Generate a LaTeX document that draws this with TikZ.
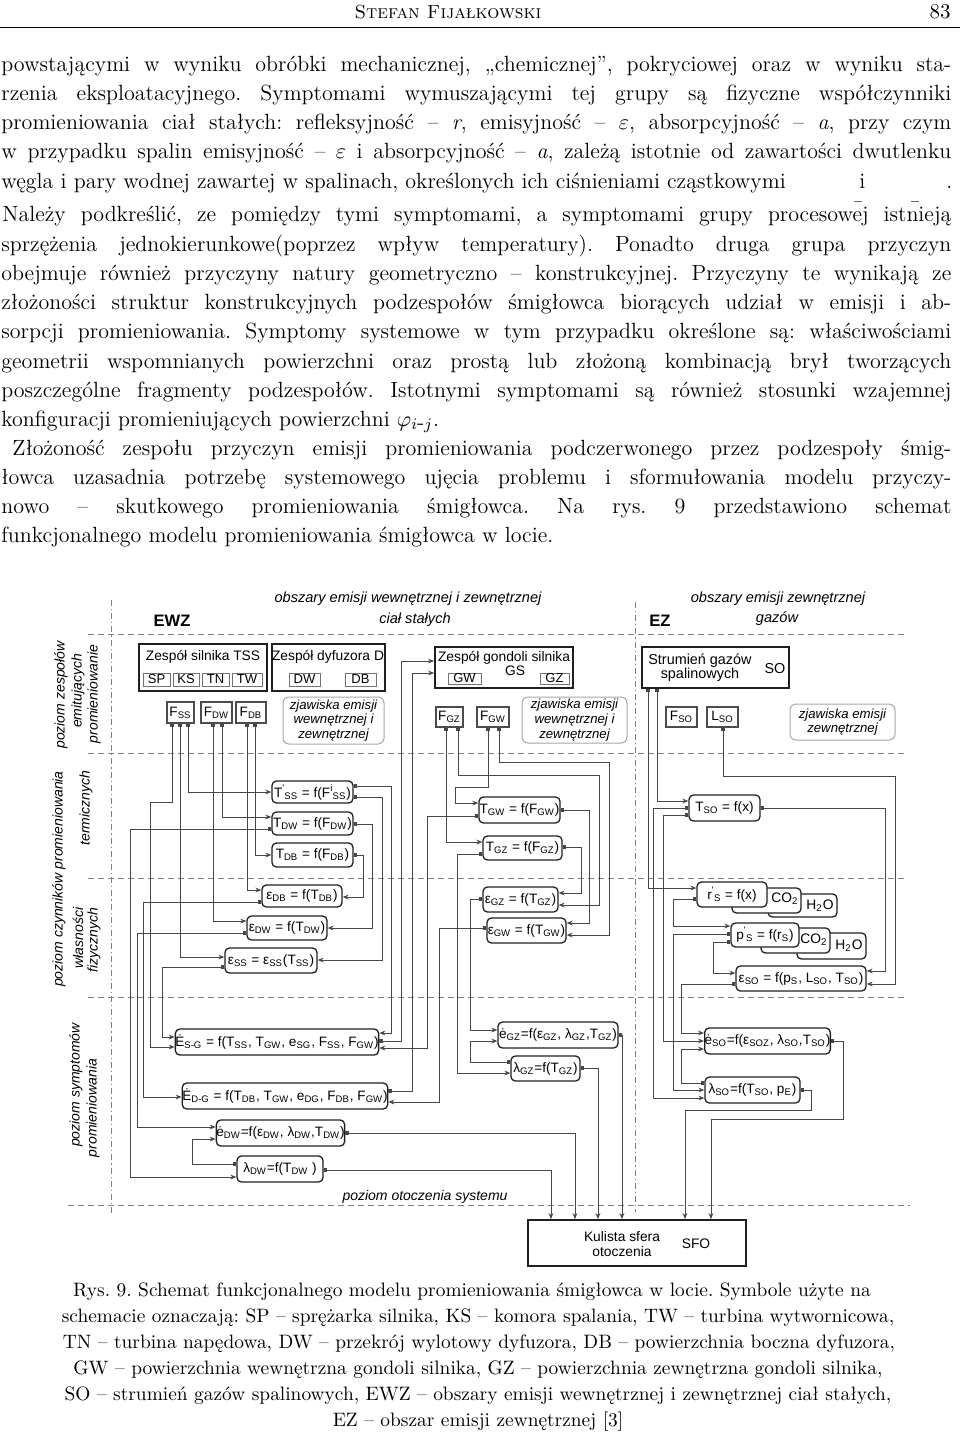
\documentclass[tikz,border=0pt]{standalone}
\usepackage{fontspec}
\newfontfamily\dfont{Liberation Sans}
\usetikzlibrary{arrows.meta}
\definecolor{boxc}{gray}{0.12}
\definecolor{linec}{gray}{0.28}
\definecolor{dashc}{gray}{0.5}
\newcommand\sbs[1]{\textsubscript{#1}}
\newcommand\bx[7]{\node[#1,minimum width={(#5-#3)*0.5pt},minimum height={(#6-#4)*0.5pt}] (#2) at ({(#3+#5)/2},{(#4+#6)/2}) {#7};}
\tikzset{
  body/.style={anchor=base west,inner sep=0pt,font=\fontsize{11}{13}\selectfont},
  capt/.style={anchor=base,inner sep=0pt,font=\fontsize{9.7}{12}\selectfont},
  dtext/.style={inner sep=0pt,font=\dfont\fontsize{6.9}{8}\selectfont},
  itext/.style={inner sep=0pt,align=center,font=\dfont\itshape\fontsize{6.8}{7.4}\selectfont},
  lvl/.style={inner sep=0pt,rotate=90,font=\dfont\itshape\fontsize{7}{8}\selectfont},
  mainbox/.style={draw=boxc,line width=0.9pt,inner sep=0pt},
  subbox/.style={draw=black!55,line width=0.5pt,inner sep=0pt,font=\dfont\fontsize{6.5}{8}\selectfont},
  fbx/.style={draw=black!70,line width=0.55pt,inner sep=0pt,font=\dfont\fontsize{6.8}{8}\selectfont},
  rbox/.style={draw=boxc,line width=0.65pt,rounded corners=2.2pt,inner sep=0pt,fill=white,font=\dfont\fontsize{6.8}{8}\selectfont},
  zbox/.style={draw=black!35,line width=0.5pt,rounded corners=3pt,inner sep=0pt,align=center,font=\dfont\itshape\fontsize{6.6}{7.3}\selectfont},
  hdash/.style={draw=dashc,line width=0.5pt,dash pattern=on 3pt off 2pt},
  vdash/.style={draw=dashc,line width=0.45pt,dash pattern=on 3pt off 1.5pt on 0.6pt off 1.5pt},
  conn/.style={draw=linec,line width=0.45pt,{Square[length=1.6pt,width=1.6pt]}-{Stealth[length=3pt,width=2.4pt]}},
}
\begin{document}
\frenchspacing
\begin{tikzpicture}[x=0.5pt,y=-0.5pt]
\useasboundingbox (0,0) rectangle (960,1435);
% ---------- header ----------
\node[anchor=base,inner sep=0pt,font=\fontsize{9.5}{11}\selectfont] (hd) at (448,18) {\textsc{Stefan Fijałkowski}};
\node[anchor=base east,inner sep=0pt,font=\fontsize{10.5}{12}\selectfont] (pg) at (951,18) {83};
\draw[line width=0.4pt] (0,27) -- (960,27);
% ---------- body text ----------
\node[body] (l1) at (1,71) {\makebox[475pt][s]{powstającymi w wyniku obróbki mechanicznej, „chemicznej”, pokryciowej oraz w wyniku sta-}};
\node[body] (l2) at (1,100) {\makebox[475pt][s]{rzenia eksploatacyjnego. Symptomami wymuszającymi tej grupy są fizyczne współczynniki}};
\node[body] (l3) at (1,129) {\makebox[475pt][s]{promieniowania ciał stałych: refleksyjność – \textit{r}, emisyjność – $\varepsilon$, absorpcyjność – \textit{a}, przy czym}};
\node[body] (l4) at (1,158) {\makebox[475pt][s]{w przypadku spalin emisyjność – $\varepsilon$ i absorpcyjność – \textit{a}, zależą istotnie od zawartości dwutlenku}};
\node[body] (l5) at (1,188) {węgla i pary wodnej zawartej w spalinach, określonych ich ciśnieniami cząstkowymi};
\node[body] (l5b) at (859,188) {i};
\node[body] (l5c) at (946,188) {.};
\draw[line width=0.4pt,black!60] (854,201) -- (862,201) (911,201) -- (919,201);
\node[body] (l6) at (2,221) {\makebox[474.5pt][s]{Należy podkreślić, ze pomiędzy tymi symptomami, a symptomami grupy procesowej istnieją}};
\node[body] (l7) at (1,251) {\makebox[475pt][s]{sprzężenia jednokierunkowe(poprzez wpływ temperatury). Ponadto druga grupa przyczyn}};
\node[body] (l8) at (1,280) {\makebox[475pt][s]{obejmuje również przyczyny natury geometryczno – konstrukcyjnej. Przyczyny te wynikają ze}};
\node[body] (l9) at (1,309) {\makebox[475pt][s]{złożoności struktur konstrukcyjnych podzespołów śmigłowca biorących udział w emisji i ab-}};
\node[body] (l10) at (1,338) {\makebox[475pt][s]{sorpcji promieniowania. Symptomy systemowe w tym przypadku określone są: właściwościami}};
\node[body] (l11) at (1,368) {\makebox[475pt][s]{geometrii wspomnianych powierzchni oraz prostą lub złożoną kombinacją brył tworzących}};
\node[body] (l12) at (1,397) {\makebox[475pt][s]{poszczególne fragmenty podzespołów. Istotnymi symptomami są również stosunki wzajemnej}};
\node[body] (l13) at (1,426) {konfiguracji promieniujących powierzchni $\varphi_{i\mbox{-}j}$.};
\node[body] (l14) at (12,455) {\makebox[469.5pt][s]{Złożoność zespołu przyczyn emisji promieniowania podczerwonego przez podzespoły śmig-}};
\node[body] (l15) at (1,484) {\makebox[475pt][s]{łowca uzasadnia potrzebę systemowego ujęcia problemu i sformułowania modelu przyczy-}};
\node[body] (l16) at (1,513) {\makebox[475pt][s]{nowo – skutkowego promieniowania śmigłowca. Na rys. 9 przedstawiono schemat}};
\node[body] (l17) at (1,542) {funkcjonalnego modelu promieniowania śmigłowca w locie.};
% ---------- diagram: frame lines ----------
\draw[vdash] (111,600) -- (111,1213);
\draw[vdash] (635,602) -- (635,1212);
\draw[hdash] (88,634) -- (907,634);
\draw[hdash] (88,753) -- (907,753);
\draw[hdash] (88,878) -- (907,878);
\draw[hdash] (88,997) -- (907,997);
\draw[hdash] (68,1205) -- (910,1205);
% top labels
\node[itext,font=\dfont\itshape\fontsize{7.3}{8}\selectfont] (t1) at (408,599) {obszary emisji wewnętrznej i zewnętrznej};
\node[itext,font=\dfont\itshape\fontsize{7.3}{8}\selectfont] (t2) at (415,620) {ciał stałych};
\node[itext,font=\dfont\itshape\fontsize{7.3}{8}\selectfont] (t3) at (778,599) {obszary emisji zewnętrznej};
\node[itext,font=\dfont\itshape\fontsize{7.3}{8}\selectfont] (t4) at (777,619) {gazów};
\node[inner sep=0pt,font=\dfont\bfseries\fontsize{8.3}{9}\selectfont] (ewz) at (172,621) {EWZ};
\node[inner sep=0pt,font=\dfont\bfseries\fontsize{8.3}{9}\selectfont] (ez) at (660,621) {EZ};
% level labels
\node[lvl] (v1) at (61,695) {poziom zespołów};
\node[lvl] (v2) at (78,691) {emitujących};
\node[lvl] (v3) at (94,694) {promieniowanie};
\node[lvl] (v4) at (59,879) {poziom czynników promieniowania};
\node[lvl] (v5) at (86,808) {termicznych};
\node[lvl] (v6) at (78,938) {własności};
\node[lvl] (v7) at (94,940) {fizycznych};
\node[lvl] (v8) at (76,1085) {poziom symptomów};
\node[lvl] (v9) at (93,1108) {promieniowania};
\node[itext,font=\dfont\itshape\fontsize{7}{8}\selectfont] (v10) at (425,1197) {poziom otoczenia systemu};
% ---------- level 1 boxes ----------
\bx{mainbox}{tss}{139}{644}{267}{691}{}
\node[dtext] (tsst) at (203,657) {Zespół silnika TSS};
\bx{subbox}{sp}{143}{673}{170}{686}{SP}
\bx{subbox}{ks}{173}{673}{199}{686}{KS}
\bx{subbox}{tn}{202}{673}{229}{686}{TN}
\bx{subbox}{tw}{232}{673}{262}{686}{TW}
\bx{mainbox}{dz}{272}{644}{385}{691}{}
\node[dtext] (dzt) at (328,657) {Zespół dyfuzora D};
\bx{subbox}{dw}{289}{673}{320}{686}{DW}
\bx{subbox}{db}{345}{673}{376}{686}{DB}
\bx{mainbox}{gs}{435}{647}{573}{688}{}
\node[dtext] (gst) at (504,658) {Zespół gondoli silnika};
\node[dtext] (gst2) at (515,671) {GS};
\bx{subbox}{gw}{448}{673}{481}{684}{GW}
\bx{subbox}{gz}{540}{673}{569}{684}{GZ}
\bx{mainbox}{so}{642}{647}{789}{688}{}
\node[dtext,font=\dfont\fontsize{7.2}{8}\selectfont] (sot1) at (700,661) {Strumień gazów};
\node[dtext,font=\dfont\fontsize{7.2}{8}\selectfont] (sot2) at (700,675) {spalinowych};
\node[dtext,font=\dfont\fontsize{7.2}{8}\selectfont] (sot3) at (775,669) {SO};
% F boxes
\bx{fbx}{fss}{167}{702}{194}{723}{F\sbs{SS}}
\bx{fbx}{fdw}{201}{702}{232}{723}{F\sbs{DW}}
\bx{fbx}{fdb}{236}{702}{266}{723}{F\sbs{DB}}
\bx{fbx}{fgz}{436}{707}{463}{727}{F\sbs{GZ}}
\bx{fbx}{fgw}{477}{707}{509}{727}{F\sbs{GW}}
\bx{fbx}{fso}{666}{707}{697}{727}{F\sbs{SO}}
\bx{fbx}{lso}{707}{707}{738}{727}{L\sbs{SO}}
\bx{zbox}{z1}{283}{697}{384}{744}{zjawiska emisji\\wewnętrznej i\\zewnętrznej}
\bx{zbox}{z2}{522}{697}{627}{743}{zjawiska emisji\\wewnętrznej i\\zewnętrznej}
\bx{zbox}{z3}{790}{704}{895}{740}{zjawiska emisji\\zewnętrznej}
% ---------- formula boxes ----------
\bx{rbox}{tss1}{272}{781}{353}{803}{T\textsuperscript{'}\kern-0.05em\sbs{SS} = f(F\textsuperscript{i}\kern-0.05em\sbs{SS})}
\bx{rbox}{tdw}{272}{812}{353}{835}{T\sbs{DW} = f(F\sbs{DW})}
\bx{rbox}{tdb}{272}{843}{353}{867}{T\sbs{DB} = f(F\sbs{DB})}
\bx{rbox}{edb}{262}{885}{342}{907}{ε\sbs{DB} = f(T\sbs{DB})}
\bx{rbox}{edw}{247}{916}{327}{940}{ε\sbs{DW} = f(T\sbs{DW})}
\bx{rbox}{ess}{225}{948}{317}{973}{ε\sbs{SS} = ε\sbs{SS}(T\sbs{SS})}
\bx{rbox}{tgw}{479}{797}{560}{823}{T\sbs{GW} = f(F\sbs{GW})}
\bx{rbox}{tgz}{483}{836}{562}{860}{T\sbs{GZ} = f(F\sbs{GZ})}
\bx{rbox}{egz}{483}{887}{558}{912}{ε\sbs{GZ} = f(T\sbs{GZ})}
\bx{rbox}{egw}{487}{918}{566}{943}{ε\sbs{GW} = f(T\sbs{GW})}
\bx{rbox}{tso}{689}{795}{760}{821}{T\sbs{SO} = f(x)}
\bx{rbox}{h2oa}{768}{894}{837}{917}{}
\bx{rbox}{co2a}{732}{888}{801}{913}{}
\bx{rbox}{rs}{697}{882}{767}{907}{r\textsuperscript{'}\kern-0.05em\sbs{S} = f(x)}
\node[dtext] (co2at) at (785,899) {CO\sbs{2}};
\node[dtext] (h2oat) at (820,906) {H\sbs{2}O};
\bx{rbox}{h2ob}{797}{933}{866}{959}{}
\bx{rbox}{co2b}{761}{928}{830}{953}{}
\bx{rbox}{ps}{731}{923}{799}{947}{p\textsuperscript{'}\kern-0.05em\sbs{S} = f(r\sbs{S})}
\node[dtext] (co2bt) at (814,940) {CO\sbs{2}};
\node[dtext] (h2obt) at (849,946) {H\sbs{2}O};
\bx{rbox}{eso}{736}{966}{866}{991}{ε\sbs{SO} = f(p\sbs{S}, L\sbs{SO}, T\sbs{SO})}
\bx{rbox}{esg}{178}{1029}{376}{1055}{Ė\sbs{S-G} = f(T\sbs{SS}, T\sbs{GW}, e\sbs{SG}, F\sbs{SS}, F\sbs{GW})}
\bx{rbox}{edg}{184}{1083}{386}{1109}{Ė\sbs{D-G} = f(T\sbs{DB}, T\sbs{GW}, e\sbs{DG}, F\sbs{DB}, F\sbs{GW})}
\bx{rbox}{edwd}{217}{1120}{344}{1146}{ė\sbs{DW}=f(ε\sbs{DW}, λ\sbs{DW},T\sbs{DW})}
\bx{rbox}{ldw}{237}{1156}{323}{1182}{λ\sbs{DW}=f(T\sbs{DW} )}
\bx{rbox}{egzd}{498}{1022}{618}{1048}{ė\sbs{GZ}=f(ε\sbs{GZ}, λ\sbs{GZ},T\sbs{GZ})}
\bx{rbox}{lgz}{511}{1056}{580}{1081}{λ\sbs{GZ}=f(T\sbs{GZ})}
\bx{rbox}{esod}{705}{1028}{830}{1054}{ė\sbs{SO}=f(ε\sbs{SOZ}, λ\sbs{SO},T\sbs{SO})}
\bx{rbox}{lsob}{705}{1077}{800}{1103}{λ\sbs{SO}=f(T\sbs{SO}, p\sbs{E})}
\bx{mainbox}{sfo}{528}{1220}{746}{1266}{}
\node[dtext] (sfo1) at (622,1237) {Kulista sfera};
\node[dtext] (sfo2) at (622,1252) {otoczenia};
\node[dtext] (sfo3) at (696,1244) {SFO};
% ---------- connectors: left column ----------
\draw[conn] (fss.south -| 188,0) |- (tss1.west |- 0,792);
\draw[conn] (fss.south -| 180,0) |- (ess.west |- 0,957);
\draw[conn] (fss.south -| 172,0) -- (172,802) -- (150,802) |- (esg.west |- 0,1047);
\draw[conn] (fdw.south -| 222,0) |- (tdw.west |- 0,817);
\draw[conn] (fdw.south -| 213,0) |- (edw.west |- 0,921);
\draw[conn] (fdb.south -| 255,0) |- (tdb.west |- 0,855);
\draw[conn] (fdb.south -| 247,0) |- (edb.west |- 0,890);
\draw[conn] (tdw.west |- 0,829) -- (130,829) |- (ldw.west |- 0,1177);
\draw[conn] (edb.west |- 0,902) -- (143,902) |- (edg.west |- 0,1097);
\draw[conn] (edw.west |- 0,933) -- (137,933) |- (edwd.west |- 0,1127);
\draw[conn] (ess.west |- 0,967) -- (162,967) |- (esg.west |- 0,1037);
\draw[conn] (ldw.west |- 0,1164) -- (192,1164) |- (edwd.west |- 0,1139);
\draw[conn] (tss1.east |- 0,786) -- (391,786) |- (esg.east |- 0,1033);
\draw[conn] (tss1.east |- 0,797) -- (382,797) |- (ess.east |- 0,960);
\draw[conn] (tdw.east |- 0,824) -- (372,824) |- (edw.east |- 0,928);
\draw[conn] (tdb.east |- 0,855) -- (363,855) |- (edb.east |- 0,897);
\draw[conn] (esg.east |- 0,1041) -- (401,1041) |- (gs.west |- 0,661);
\draw[conn] (edg.east |- 0,1091) -- (412,1091) |- (gs.west |- 0,673);
\draw[conn] (tgw.west |- 0,816) -- (427,816) |- (esg.east |- 0,1048);
\draw[conn] (egw.west |- 0,928) -- (439,928) |- (edg.east |- 0,1102);
% ---------- connectors: GW / GZ ----------
\draw[conn] (fgz.south -| 446,0) |- (tgz.west |- 0,842);
\draw[conn] (fgz.south -| 458,0) -- (458,775) -- (599,775) |- (egz.east |- 0,905);
\draw[conn] (fgw.south -| 488,0) -- (488,787) -- (455,787) |- (tgw.west |- 0,803);
\draw[conn] (fgw.south -| 499,0) -- (499,762) -- (609,762) |- (egw.east |- 0,935);
\draw[conn] (tgw.east |- 0,810) -- (589,810) |- (egw.east |- 0,923);
\draw[conn] (tgz.east |- 0,847) -- (581,847) |- (egz.east |- 0,893);
\draw[conn] (tgz.west |- 0,854) -- (457,854) |- (lgz.west |- 0,1073);
\draw[conn] (egz.west |- 0,899) -- (470,899) |- (egzd.west |- 0,1030);
\draw[conn] (lgz.west |- 0,1062) -- (470,1062) |- (egzd.west |- 0,1041);
\draw[conn] (egzd.east |- 0,1035) -- (622,1035) -- (sfo.north -| 622,0);
\draw[conn] (lgz.east |- 0,1068) -- (598,1068) -- (sfo.north -| 598,0);
\draw[conn] (edwd.east |- 0,1133) -- (575,1133) -- (sfo.north -| 575,0);
\draw[conn] (ldw.east |- 0,1170) -- (551,1170) -- (sfo.north -| 551,0);
% ---------- connectors: SO ----------
\draw[conn] (so.south -| 657,0) |- (tso.west |- 0,801);
\draw[conn] (so.south -| 648,0) |- (rs.west |- 0,888);
\draw[conn] (tso.west |- 0,808) -- (653,808) |- (lsob.west |- 0,1098);
\draw[conn] (tso.west |- 0,815) -- (663,815) |- (esod.west |- 0,1041);
\draw[conn] (rs.west |- 0,899) -- (673,899) |- (ps.west |- 0,926);
\draw[conn] (ps.west |- 0,934) -- (673,934) |- (lsob.west |- 0,1090);
\draw[conn] (ps.west |- 0,942) -- (713,942) |- (eso.west |- 0,973);
\draw[conn] (eso.west |- 0,984) -- (681,984) |- (esod.west |- 0,1033);
\draw[conn] (lsob.west |- 0,1083) -- (681,1083) |- (esod.west |- 0,1049);
\draw[conn] (tso.east |- 0,808) -- (885,808) |- (eso.east |- 0,971);
\draw[conn] (lso.south -| 723,0) -- (723,776) -- (895,776) |- (eso.east |- 0,984);
\draw[conn] (esod.east |- 0,1041) -- (843,1041) -- (843,1119) -- (711,1119) -- (sfo.north -| 711,0);
\draw[conn] (lsob.east |- 0,1090) -- (811,1090) -- (811,1110) -- (685,1110) -- (sfo.north -| 685,0);
% ---------- caption ----------
\node[capt] (c1) at (472,1296) {Rys. 9. Schemat funkcjonalnego modelu promieniowania śmigłowca w locie. Symbole użyte na};
\node[capt] (c2) at (478,1322) {schemacie oznaczają: SP – sprężarka silnika, KS – komora spalania, TW – turbina wytwornicowa,};
\node[capt] (c3) at (479,1348) {TN – turbina napędowa, DW – przekrój wylotowy dyfuzora, DB – powierzchnia boczna dyfuzora,};
\node[capt] (c4) at (478,1374) {GW – powierzchnia wewnętrzna gondoli silnika, GZ – powierzchnia zewnętrzna gondoli silnika,};
\node[capt] (c5) at (478,1400) {SO – strumień gazów spalinowych, EWZ – obszary emisji wewnętrznej i zewnętrznej ciał stałych,};
\node[capt] (c6) at (478,1426) {EZ – obszar emisji zewnętrznej [3]};
\end{tikzpicture}
\end{document}
